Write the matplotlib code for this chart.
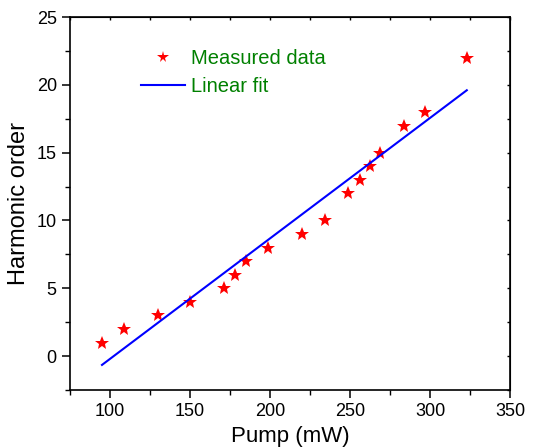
import matplotlib
matplotlib.use("Agg")
import matplotlib.pyplot as plt
from matplotlib.ticker import MultipleLocator

# data ---------------------------------------------------------------------------------

pump_mw = [95, 109, 130, 150, 171, 178, 185, 199, 220, 234.5,
           249, 256, 262.5, 269, 284, 297, 323]
harmonic_order = [1, 2, 3, 4, 5, 6, 7, 8, 9, 10,
                  12, 13, 14, 15, 17, 18, 22]

fit_x = [95, 323]
fit_y = [-0.65, 19.6]

# plot ---------------------------------------------------------------------------------

plt.rcParams["font.family"] = ["Liberation Sans", "DejaVu Sans"]

fig = plt.figure(figsize=(5.43, 4.48), dpi=100)
ax = fig.add_axes([70 / 543, 1 - 390 / 448, 440 / 543, 373 / 448])

ax.plot(pump_mw, harmonic_order, linestyle="none", marker="*", color="red",
        markersize=10.5, markeredgewidth=0, label="Measured data")
ax.plot(fit_x, fit_y, color="blue", linewidth=1.5, label="Linear fit")

ax.set_xlim(75, 350)
ax.set_ylim(-2.5, 25)
ax.xaxis.set_major_locator(MultipleLocator(50))
ax.xaxis.set_minor_locator(MultipleLocator(25))
ax.yaxis.set_major_locator(MultipleLocator(5))
ax.yaxis.set_minor_locator(MultipleLocator(2.5))

ax.tick_params(which="major", direction="out", length=6, width=1.1,
               labelsize=13, top=False, right=False)
ax.tick_params(which="minor", direction="out", length=3.5, width=1,
               top=False, right=False)
# small inward ticks on the top and right frame
sec_x = ax.secondary_xaxis("top")
sec_x.xaxis.set_major_locator(MultipleLocator(25))
sec_x.tick_params(direction="in", length=2, width=1, labeltop=False)
sec_y = ax.secondary_yaxis("right")
sec_y.yaxis.set_major_locator(MultipleLocator(2.5))
sec_y.tick_params(direction="in", length=2, width=1, labelright=False)

for sp in ax.spines.values():
    sp.set_linewidth(1.2)

ax.set_xlabel("Pump (mW)", fontsize=16, labelpad=4)
ax.set_ylabel("Harmonic order", fontsize=17, labelpad=5)

leg = ax.legend(loc="upper left", bbox_to_anchor=(0.12, 0.963), frameon=False,
                fontsize=14.5, handlelength=2.2, handletextpad=0.3,
                labelspacing=0.45, markerscale=0.8)
for t in leg.get_texts():
    t.set_color("#008000")

fig.savefig("out.png", dpi=100)
